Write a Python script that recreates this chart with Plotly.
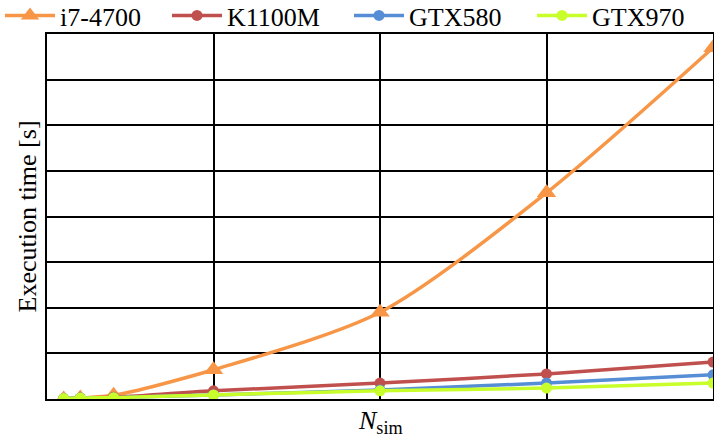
import plotly.graph_objects as go

n_sim = [2500, 5000, 10000, 25000, 50000, 75000, 100000]
i7_4700 = [0.0, 0.02, 0.08, 0.64, 1.9, 4.52, 7.7]
k1100m = [0.01, 0.02, 0.04, 0.18, 0.35, 0.55, 0.81]
gtx580 = [0.01, 0.02, 0.03, 0.09, 0.2, 0.35, 0.53]
gtx970 = [0.01, 0.02, 0.03, 0.09, 0.18, 0.24, 0.35]

series = [
    ("i7-4700", i7_4700, "#F79646", "triangle-up", 17),
    ("K1100M", k1100m, "#C0504D", "circle", 11),
    ("GTX580", gtx580, "#558ED5", "circle", 11),
    ("GTX970", gtx970, "#C8FF2A", "circle", 11),
]
legend_px = [0, 167, 349, 532]

font = "Liberation Serif, Times New Roman, serif"
fig = go.Figure()
legends = {}
for i, (name, vals, color, sym, sz) in enumerate(series):
    key = "legend" if i == 0 else f"legend{i + 1}"
    fig.add_trace(go.Scatter(
        x=n_sim, y=vals, name=name, mode="lines+markers",
        line=dict(color=color, width=3.5, shape="spline", smoothing=0.8),
        marker=dict(color=color, symbol=sym, size=sz),
        legend=key,
    ))
    legends[key] = dict(orientation="h", x=legend_px[i] / 714, xanchor="left",
                        xref="container", y=1 + 42 / 365, yanchor="top",
                        yref="paper", font=dict(family=font, size=26),
                        itemwidth=50, bgcolor="rgba(0,0,0,0)")

fig.update_layout(
    width=714, height=440,
    margin=dict(l=47, r=1, t=34, b=41, autoexpand=False),
    plot_bgcolor="white", paper_bgcolor="white",
    font=dict(family=font, size=26, color="black"),
    showlegend=True,
    xaxis=dict(range=[0, 100000], dtick=25000, showticklabels=False,
               showgrid=True, gridcolor="black", gridwidth=1.8,
               showline=True, linecolor="black", linewidth=2, mirror=True,
               zeroline=False, ticks="", automargin=False),
    yaxis=dict(range=[0, 8], dtick=1, showticklabels=False,
               showgrid=True, gridcolor="black", gridwidth=1.8,
               showline=True, linecolor="black", linewidth=2, mirror=True,
               zeroline=False, ticks="", automargin=False),
    annotations=[
        dict(text="Execution time [s]", xref="paper", yref="paper",
             x=-20 / 666, y=0.5, textangle=-90, showarrow=False,
             xanchor="center", yanchor="middle",
             font=dict(family=font, size=26)),
        dict(text="<i>N</i><sub>sim</sub>", xref="paper", yref="paper",
             x=0.5, y=-23 / 365, showarrow=False,
             xanchor="center", yanchor="middle",
             font=dict(family=font, size=26)),
    ],
    **legends,
)
fig.write_html("out.html", config={"displayModeBar": False},
               post_script="document.body.style.margin='0';")
